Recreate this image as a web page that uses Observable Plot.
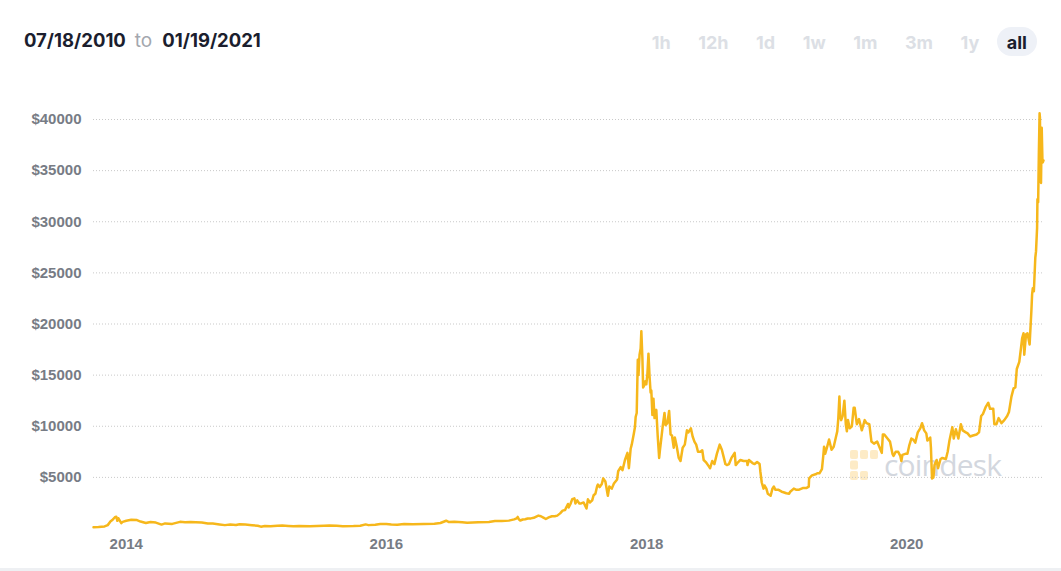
<!DOCTYPE html>
<html>
<head>
<meta charset="utf-8">
<script src="https://cdn.jsdelivr.net/npm/d3@7"></script>
<script src="https://cdn.jsdelivr.net/npm/@observablehq/plot@0.6"></script>
<style>
  html, body { margin: 0; padding: 0; background: #fff; }
  #wrap { position: relative; width: 1061px; height: 571px; overflow: hidden; background: #fff; }
  #title { position: absolute; left: 24px; top: 29px; font-family: Inter, "Noto Sans", sans-serif; font-size: 18.5px; line-height: 22px; font-weight: 700; color: #1b1e2e; white-space: nowrap; }
  #title .to { font-weight: 400; color: #a3a7ae; font-size: 19px; margin: 0 10px 0 9px; }
  #ranges { position: absolute; right: 24px; top: 27px; display: flex; gap: 7.5px; font-family: Inter, "Noto Sans", sans-serif; font-size: 18px; font-weight: 700; }
  #ranges span { display: block; height: 29px; line-height: 31px; padding: 0 10px; border-radius: 15px; color: #dcdfe5; }
  #ranges span.active { background: #eef1f7; color: #1b1e2e; }
  #mark { position: absolute; left: 850px; top: 447px; display: flex; align-items: center; gap: 6px; z-index: 0; }
  #mark .word { font-family: "Open Sans", "Noto Sans", sans-serif; font-size: 30px; font-weight: 400; color: #d3d7de; letter-spacing: -0.8px; line-height: 36px; }
  #chart { position: absolute; left: 0; top: 0; z-index: 1; }
  #band { position: absolute; left: 0; right: 0; bottom: 0; height: 3px; background: #eef0f3; }
</style>
</head>
<body>
<div id="wrap">
  <div id="title"></div>
  <div id="ranges"></div>
  <div id="mark">
    <svg width="28" height="30" viewBox="0 0 28 30">
      <g fill="#fdebc6">
        <rect x="0" y="0" width="8" height="9" rx="2"/><rect x="10" y="0" width="8" height="9" rx="2"/><rect x="20" y="0" width="8" height="9" rx="2"/>
        <rect x="0" y="10.5" width="8" height="9" rx="2"/>
        <rect x="0" y="21" width="8" height="9" rx="2"/><rect x="10" y="21" width="8" height="9" rx="2"/>
      </g>
    </svg>
    <span class="word">coindesk</span>
  </div>
  <div id="chart"></div>
  <div id="band"></div>
</div>
<script>
// ---- header texts ----
const fromLabel = "07/18/2010";
const toWord = "to";
const toLabel = "01/19/2021";
const rangeButtons = ["1h", "12h", "1d", "1w", "1m", "3m", "1y", "all"];
const activeRange = "all";

// ---- axis ticks ----
const yTicks = [5000, 10000, 15000, 20000, 25000, 30000, 35000, 40000];
const xTickYears = [2014, 2016, 2018, 2020];

// ---- series ----
const dates = [
"2013-10-01","2013-10-15","2013-11-01","2013-11-10","2013-11-18","2013-11-22","2013-11-30","2013-12-04","2013-12-07","2013-12-10","2013-12-18","2013-12-22",
"2014-01-01","2014-01-15","2014-01-31","2014-02-10","2014-02-25","2014-03-10","2014-03-25","2014-04-10","2014-04-20","2014-05-10","2014-06-01","2014-06-15","2014-07-01","2014-07-15","2014-08-01","2014-08-18","2014-09-01","2014-09-20","2014-10-05","2014-10-20","2014-11-05","2014-11-15","2014-12-01","2014-12-20",
"2015-01-05","2015-01-14","2015-01-25","2015-02-10","2015-03-01","2015-03-15","2015-04-01","2015-04-15","2015-05-01","2015-06-01","2015-06-20","2015-07-10","2015-07-25","2015-08-15","2015-09-01","2015-10-01","2015-10-20","2015-11-04","2015-11-12","2015-12-01","2015-12-15",
"2016-01-01","2016-01-15","2016-02-01","2016-02-20","2016-03-15","2016-04-15","2016-05-15","2016-06-01","2016-06-17","2016-06-25","2016-07-10","2016-08-01","2016-08-15","2016-09-15","2016-10-15","2016-11-01","2016-11-20","2016-12-10","2016-12-25",
"2017-01-01","2017-01-04","2017-01-07","2017-01-11","2017-01-18","2017-01-25","2017-02-01","2017-02-10","2017-02-18","2017-02-25","2017-03-03","2017-03-10","2017-03-17","2017-03-24","2017-04-01","2017-04-10","2017-04-18","2017-04-25","2017-05-03","2017-05-10","2017-05-17","2017-05-20","2017-05-25","2017-05-27","2017-06-01","2017-06-06","2017-06-12","2017-06-15","2017-06-20","2017-06-26","2017-07-01","2017-07-08","2017-07-16","2017-07-20","2017-07-26","2017-08-01","2017-08-05","2017-08-10","2017-08-15","2017-08-17","2017-08-22","2017-08-28","2017-09-01","2017-09-07","2017-09-14","2017-09-18","2017-09-25","2017-10-01","2017-10-10","2017-10-13","2017-10-20","2017-10-25","2017-11-01","2017-11-08","2017-11-12","2017-11-17","2017-11-20","2017-11-26","2017-11-29","2017-12-01","2017-12-04","2017-12-07","2017-12-09","2017-12-12","2017-12-15","2017-12-17","2017-12-20","2017-12-22","2017-12-25","2017-12-28","2017-12-31",
"2018-01-03","2018-01-06","2018-01-09","2018-01-12","2018-01-14","2018-01-17","2018-01-20","2018-01-23","2018-01-28","2018-02-01","2018-02-05","2018-02-07","2018-02-10","2018-02-15","2018-02-20","2018-02-23","2018-02-28","2018-03-05","2018-03-09","2018-03-13","2018-03-18","2018-03-21","2018-03-26","2018-04-01","2018-04-06","2018-04-12","2018-04-18","2018-04-24","2018-04-28","2018-05-05","2018-05-10","2018-05-15","2018-05-20","2018-05-25","2018-06-01","2018-06-06","2018-06-10","2018-06-16","2018-06-24","2018-06-28","2018-07-04","2018-07-10","2018-07-17","2018-07-25","2018-07-31","2018-08-05","2018-08-10","2018-08-14","2018-08-20","2018-08-27","2018-09-05","2018-09-08","2018-09-15","2018-09-21","2018-09-30","2018-10-10","2018-10-11","2018-10-15","2018-10-25","2018-10-31","2018-11-07","2018-11-14","2018-11-16","2018-11-20","2018-11-25","2018-11-28","2018-12-03","2018-12-07","2018-12-15","2018-12-20","2018-12-24","2018-12-28",
"2019-01-05","2019-01-10","2019-01-15","2019-01-20","2019-01-28","2019-02-05","2019-02-08","2019-02-18","2019-02-24","2019-03-05","2019-03-15","2019-03-25","2019-04-01","2019-04-02","2019-04-10","2019-04-20","2019-04-25","2019-05-01","2019-05-08","2019-05-12","2019-05-14","2019-05-17","2019-05-22","2019-05-28","2019-06-04","2019-06-10","2019-06-16","2019-06-20","2019-06-23","2019-06-26","2019-06-28","2019-07-01","2019-07-05","2019-07-10","2019-07-14","2019-07-17","2019-07-20","2019-07-25","2019-07-31","2019-08-05","2019-08-08","2019-08-14","2019-08-20","2019-08-28","2019-09-05","2019-09-10","2019-09-18","2019-09-24","2019-10-01","2019-10-10","2019-10-16","2019-10-23","2019-10-26","2019-10-30","2019-11-08","2019-11-15","2019-11-22","2019-11-25","2019-12-01","2019-12-08","2019-12-14","2019-12-17","2019-12-20","2019-12-28",
"2020-01-03","2020-01-08","2020-01-14","2020-01-19","2020-01-25","2020-02-01","2020-02-08","2020-02-13","2020-02-19","2020-02-25","2020-02-28","2020-03-07","2020-03-09","2020-03-12","2020-03-16","2020-03-19","2020-03-25","2020-03-29","2020-04-05","2020-04-10","2020-04-20","2020-04-25","2020-04-30","2020-05-08","2020-05-12","2020-05-18","2020-05-25","2020-06-01","2020-06-06","2020-06-15","2020-06-20","2020-06-27","2020-07-05","2020-07-15","2020-07-22","2020-07-28","2020-08-02","2020-08-10","2020-08-17","2020-08-22","2020-08-31","2020-09-03","2020-09-09","2020-09-15","2020-09-23","2020-10-01","2020-10-09","2020-10-14","2020-10-21","2020-10-27","2020-11-01","2020-11-05","2020-11-12","2020-11-17","2020-11-20","2020-11-24","2020-11-26","2020-12-01","2020-12-05","2020-12-11","2020-12-16","2020-12-18","2020-12-20","2020-12-23","2020-12-27","2020-12-29",
"2021-01-01","2021-01-02","2021-01-04","2021-01-06","2021-01-08","2021-01-09","2021-01-11","2021-01-12","2021-01-14","2021-01-16","2021-01-17","2021-01-19"
];
const prices = [
125,140,200,330,700,800,1100,1150,750,1000,520,650,
760,850,820,680,540,630,580,380,500,450,650,600,640,620,590,490,480,400,330,380,340,420,380,320,
275,180,250,220,260,285,245,220,235,225,245,280,290,260,230,238,270,400,330,370,450,
432,380,375,440,415,430,455,535,760,630,650,610,570,610,640,730,730,770,890,
1000,1130,900,780,880,900,980,990,1050,1170,1260,1200,1070,930,1080,1200,1200,1260,1480,1750,1800,2050,2400,2050,2400,2870,2950,2450,2750,2450,2450,2550,1950,2850,2550,2750,3250,3400,4150,4300,4050,4350,4900,4600,3200,4100,3900,4400,4800,5600,6000,5700,6700,7400,5900,7800,8200,9300,9900,10900,11300,16500,15000,17000,17600,19300,16600,13800,14000,14400,14100,
15100,17100,14900,13300,13500,11100,12700,10800,11600,9000,6900,7600,8500,10000,11300,10100,10300,11500,9200,9100,7900,8900,8100,6900,6600,7900,8200,9600,9400,9800,9000,8500,8200,7500,7500,7650,6700,6500,6100,5900,6600,6300,7300,8200,7700,7000,6300,6200,6300,6900,7400,6200,6500,6700,6600,6600,6200,6700,6400,6300,6500,6300,5600,4500,3900,4200,3900,3400,3200,3900,4100,3800,
3800,3700,3600,3550,3450,3400,3600,3900,3800,3800,3950,3950,4100,4900,5200,5300,5400,5400,5800,7200,8000,7300,7900,8700,7700,8000,8900,9500,10800,12900,11000,10600,11000,12500,10200,9500,10600,9800,10000,11800,11800,10200,10700,9600,10600,10300,10200,8500,8300,8500,8000,7400,9200,9200,8800,8500,7300,7100,7500,7500,7100,6600,7200,7300,
7300,8100,8800,8700,8400,9400,9800,10300,9600,9300,8600,8900,7900,4900,5000,6200,6700,5900,6800,6900,6800,7500,8600,9900,8800,9700,8800,10200,9600,9400,9300,9000,9100,9200,9400,11000,11200,11900,12300,11700,11700,10200,10200,10800,10300,10600,11000,11400,12900,13700,13800,15600,16300,17700,18600,19100,17000,19000,19100,18000,21300,22900,23500,23200,26500,27100,
29400,32200,31900,36800,40600,40200,34000,33800,39200,36000,35800,36000
];

// ---- header ----
document.getElementById("title").innerHTML =
  `<span>${fromLabel}</span><span class="to">${toWord}</span><span>${toLabel}</span>`;
const rangesEl = document.getElementById("ranges");
for (const r of rangeButtons) {
  const s = document.createElement("span");
  s.textContent = r;
  if (r === activeRange) s.className = "active";
  rangesEl.appendChild(s);
}

// ---- chart ----
const data = dates.map((d, i) => ({date: new Date(d + "T00:00:00Z"), price: prices[i]}));
const xTicks = xTickYears.map(y => new Date(Date.UTC(y, 0, 1)));

const chart = Plot.plot({
  width: 1061,
  height: 571,
  marginTop: 119,
  marginBottom: 43,
  marginLeft: 93,
  marginRight: 18,
  style: {
    background: "transparent",
    fontFamily: "'Liberation Sans', Arial, sans-serif",
    fontSize: "15px",
    fontWeight: "bold",
    color: "#777c85",
    overflow: "visible"
  },
  x: {type: "utc", domain: [data[0].date, data[data.length - 1].date]},
  y: {domain: [0, 40000]},
  marks: [
    Plot.gridY(yTicks, {stroke: "#c9c9c9", strokeOpacity: 1, strokeDasharray: "1,2"}),
    Plot.axisY(yTicks, {tickSize: 0, tickPadding: 12, tickFormat: d => "$" + d, label: null, fill: "#777c85"}),
    Plot.axisX(xTicks, {tickSize: 0, tickPadding: 10, tickFormat: d => String(d.getUTCFullYear()), label: null, fill: "#777c85"}),
    Plot.lineY(data, {x: "date", y: "price", stroke: "#f6b71b", strokeWidth: 2.5, strokeLinejoin: "round"})
  ]
});
document.getElementById("chart").appendChild(chart);
</script>
</body>
</html>
